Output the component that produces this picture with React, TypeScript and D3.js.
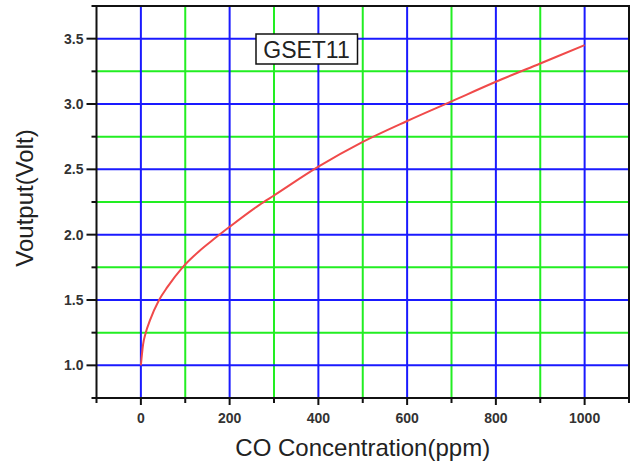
import React from "react";
import * as d3 from "d3";

const concentration = [0, 5, 11, 20, 41, 60, 94, 130, 166, 200, 268, 300, 400, 500, 600, 700, 800, 900, 1000];
const voutput = [1.0, 1.16, 1.25, 1.34, 1.5, 1.6, 1.75, 1.87, 1.97, 2.06, 2.23, 2.3, 2.52, 2.71, 2.87, 3.02, 3.17, 3.31, 3.45];

const xMajorTicks = [0, 200, 400, 600, 800, 1000];
const xMinorTicks = [-100, 100, 300, 500, 700, 900, 1100];
const yMajorTicks = [1.0, 1.5, 2.0, 2.5, 3.0, 3.5];
const yMinorTicks = [0.75, 1.25, 1.75, 2.25, 2.75, 3.25, 3.75];

const seriesName = "GSET11";
const xTitle = "CO Concentration(ppm)";
const yTitle = "Voutput(Volt)";

const W = 637;
const H = 462;
const L = 96.5, R = 629, T = 6, B = 398;

export default function App() {
  const x = d3.scaleLinear().domain([-100, 1100]).range([L, R]);
  const y = d3.scaleLinear().domain([0.75, 3.75]).range([B, T]);
  const pts = concentration.map((c, i) => [c, voutput[i]] as [number, number]);
  const line = d3
    .line<[number, number]>()
    .x((d) => x(d[0]))
    .y((d) => y(d[1]))
    .curve(d3.curveMonotoneX);

  const blue = "#1a1aff";
  const green = "#22ee22";
  const font = "'Liberation Sans', Arial, sans-serif";

  return (
    <svg width={W} height={H} style={{ position: "absolute", left: 0, top: 0, background: "#fff" }}>
      <rect x={0} y={0} width={W} height={H} fill="#fff" />
      {xMinorTicks.filter((v) => v > -100 && v < 1100).map((v) => (
        <line key={"gxm" + v} x1={x(v)} x2={x(v)} y1={T} y2={B} stroke={green} strokeWidth={2} />
      ))}
      {yMinorTicks.filter((v) => v > 0.75 && v < 3.75).map((v) => (
        <line key={"gym" + v} x1={L} x2={R} y1={y(v)} y2={y(v)} stroke={green} strokeWidth={2} />
      ))}
      {xMajorTicks.map((v) => (
        <line key={"gx" + v} x1={x(v)} x2={x(v)} y1={T} y2={B} stroke={blue} strokeWidth={2} />
      ))}
      {yMajorTicks.map((v) => (
        <line key={"gy" + v} x1={L} x2={R} y1={y(v)} y2={y(v)} stroke={blue} strokeWidth={2} />
      ))}
      <path d={line(pts) || ""} fill="none" stroke="#f04a4a" strokeWidth={2} />
      <rect x={L} y={T} width={R - L} height={B - T} fill="none" stroke="#111" strokeWidth={2} />
      {yMajorTicks.map((v) => (
        <g key={"yt" + v}>
          <line x1={L - 10} x2={L} y1={y(v)} y2={y(v)} stroke="#111" strokeWidth={2} />
          <text x={L - 13} y={y(v)} dy="0.36em" textAnchor="end" fontFamily={font} fontSize={14} fontWeight="bold" fill="#333">
            {v.toFixed(1)}
          </text>
        </g>
      ))}
      {yMinorTicks.map((v) => (
        <line key={"ymt" + v} x1={L - 5} x2={L} y1={y(v)} y2={y(v)} stroke="#111" strokeWidth={2} />
      ))}
      {xMajorTicks.map((v) => (
        <g key={"xt" + v}>
          <line x1={x(v)} x2={x(v)} y1={B} y2={B + 7} stroke="#111" strokeWidth={2} />
          <text x={x(v)} y={423} textAnchor="middle" fontFamily={font} fontSize={14} fontWeight="bold" fill="#333">
            {v}
          </text>
        </g>
      ))}
      {xMinorTicks.map((v) => (
        <line key={"xmt" + v} x1={x(v)} x2={x(v)} y1={B} y2={B + 5} stroke="#111" strokeWidth={2} />
      ))}
      <text x={(L + R) / 2} y={456} textAnchor="middle" fontFamily={font} fontSize={24} fill="#222">
        {xTitle}
      </text>
      <text
        transform={`translate(33, ${(T + B) / 2 - 4}) rotate(-90)`}
        textAnchor="middle"
        fontFamily={font}
        fontSize={24}
        fill="#222"
      >
        {yTitle}
      </text>
      <rect x={256} y={34} width={101.5} height={30} fill="#fff" stroke="#111" strokeWidth={1.5} />
      <text x={306.5} y={57.5} textAnchor="middle" fontFamily={font} fontSize={23} fill="#222">
        {seriesName}
      </text>
    </svg>
  );
}
